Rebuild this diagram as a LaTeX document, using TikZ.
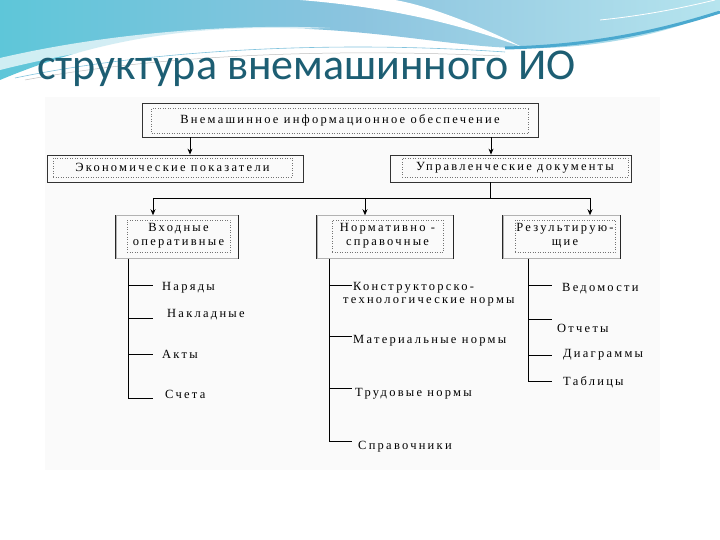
\documentclass[tikz,border=0pt]{standalone}
\usepackage{fontspec}
\setmainfont{Liberation Serif}
\newfontfamily\titlefont{Carlito}
\newfontfamily\diagfont[LetterSpace=18]{Liberation Serif}
\usetikzlibrary{arrows.meta}

\definecolor{titleteal}{HTML}{1D5E73}
\definecolor{wavecyan}{HTML}{5EC6D9}
\definecolor{waveblue}{HTML}{8CC4DF}
\definecolor{wavepale}{HTML}{B6E4EE}
\definecolor{waveband}{HTML}{4BA9CF}

\tikzset{
  outerbox/.style={draw=black!80, line width=0.8pt},
  outerlow/.style={draw=black!30, line width=0.5pt},
  side/.style={line width=1.2pt, black!85},
  innerbox/.style={draw=black!55, dotted, line width=0.5pt, align=center,
    font=\diagfont\fontsize{12.5}{14}\selectfont, inner sep=0pt},
  line/.style={line width=0.8pt, black},
  arr/.style={line, ->},
  leaf/.style={anchor=west, inner sep=0pt, align=left,
    font=\diagfont\fontsize{12.5}{13}\selectfont}
}

\begin{document}
\begin{tikzpicture}[x=1pt,y=-1pt,>={Stealth[length=6pt,width=5pt]}]
  \useasboundingbox (0,0) rectangle (720,540);
  \fill[white] (0,0) rectangle (720,540);

  % waves at the top of the slide
  \shade[left color=wavecyan, right color=wavepale, middle color=waveblue]
    (0,0) -- (720,0) -- (720,10) .. controls (660,38) and (580,50) .. (515,48)
    .. controls (450,46) and (380,30) .. (280,28)
    .. controls (180,27) and (90,42) .. (0,80) -- cycle;
  \fill[white] (300,0) .. controls (400,8) and (470,28) .. (522,47)
    .. controls (480,26) and (430,6) .. (395,0) -- cycle;
  \fill[white, opacity=0.7] (0,58) .. controls (120,30) and (250,24) .. (330,28)
    .. controls (240,30) and (120,40) .. (0,70) -- cycle;
  \draw[waveband, line width=3pt] (505,48) .. controls (600,46) and (670,28) .. (720,12);
  \draw[waveband!70, line width=0.6pt] (15,78) .. controls (150,50) and (330,40) .. (505,52);
  \draw[black!25, line width=0.5pt] (25,80) .. controls (160,55) and (330,48) .. (500,56);
  \draw[white, line width=0.8pt] (600,20) .. controls (650,15) and (690,6) .. (715,0);

  % title
  \node[anchor=base west, inner sep=0pt, text=titleteal,
    font=\titlefont\fontsize{44}{50}\selectfont] (title) at (37,80)
    {структура внемашинного ИО};

  % picture area
  \fill[black!2] (45,97) rectangle (660,470);

  % boxes
  \node[outerbox, minimum width=396, minimum height=34] (vio) at (340,120) {};
  \node[innerbox, minimum width=377, minimum height=25] (vioin) at (340,120.5)
    {Внемашинное информационное обеспечение};

  \node[outerbox, minimum width=256, minimum height=27] (ekon) at (175,168.5) {};
  \node[innerbox, minimum width=239, minimum height=19] (ekonin) at (172.5,167.5)
    {Экономические показатели};

  \node[outerbox, minimum width=241, minimum height=27] (uprav) at (510.5,168.5) {};
  \node[innerbox, minimum width=226, minimum height=19] (upravin) at (515,167.5)
    {Управленческие документы};

  \node[outerlow, minimum width=122, minimum height=43] (vhod) at (177,237) {};
  \node[innerbox, minimum width=103, minimum height=32] (vhodin) at (178.5,236)
    {Входные\\оперативные};

  \node[outerlow, minimum width=136, minimum height=43] (norm) at (385,237) {};
  \node[innerbox, minimum width=111, minimum height=32] (normin) at (387.5,236)
    {Нормативно -\\справочные};

  \node[outerlow, minimum width=117, minimum height=43] (res) at (561.5,237) {};
  \node[innerbox, minimum width=100, minimum height=32] (resin) at (565,236)
    {Результирую-\\щие};

  \foreach \b in {vhod,norm,res}
    \draw[side] (\b.north west) -- (\b.south west) (\b.north east) -- (\b.south east);

  % connectors
  \coordinate (c1) at (190,0);
  \coordinate (c2) at (491,0);
  \coordinate (c3) at (153,0);
  \coordinate (c4) at (365,0);
  \coordinate (c5) at (590,0);
  \coordinate (bus) at (490,198);
  \draw[arr] (vio.south -| c1) -- (ekon.north -| c1);
  \draw[arr] (vio.south -| c2) -- (uprav.north -| c2);
  \draw[line] (uprav.south -| bus) -- (bus);
  \draw[line] (bus -| c3) -- (bus -| c5);
  \foreach \c/\b in {c3/vhod,c4/norm,c5/res}
    \draw[arr] (bus -| \c) -- (\b.north -| \c);

  % lists
  \coordinate (t1) at (128,0);
  \coordinate (t2) at (329,0);
  \coordinate (t3) at (528,0);
  \foreach \y in {285,318,354,398}
    \draw[line] (vhod.south -| t1) |- (153,\y);
  \foreach \y in {285,336,388,441}
    \draw[line] (norm.south -| t2) |- (352,\y);
  \foreach \y in {285,319,355,381}
    \draw[line] (res.south -| t3) |- (552,\y);

  \foreach \n/\x/\y/\t in {nar/162/288/Наряды, nakl/167/315/Накладные,
      akt/162/354/Акты, sch/165/394/Счета,
      mat/353/341/Материальные нормы, trud/355/394/Трудовые нормы,
      sprav/358/447/Справочники,
      ved/562/289/Ведомости, otch/557/328/Отчеты,
      diag/563/355/Диаграммы, tabl/563/382/Таблицы}
    \node[leaf] (\n) at (\x,\y) {\t};
  \node[leaf] (konstr) at (343,294.5)
    {\hspace*{10pt}Конструкторско-\\технологические нормы};
\end{tikzpicture}
\end{document}
